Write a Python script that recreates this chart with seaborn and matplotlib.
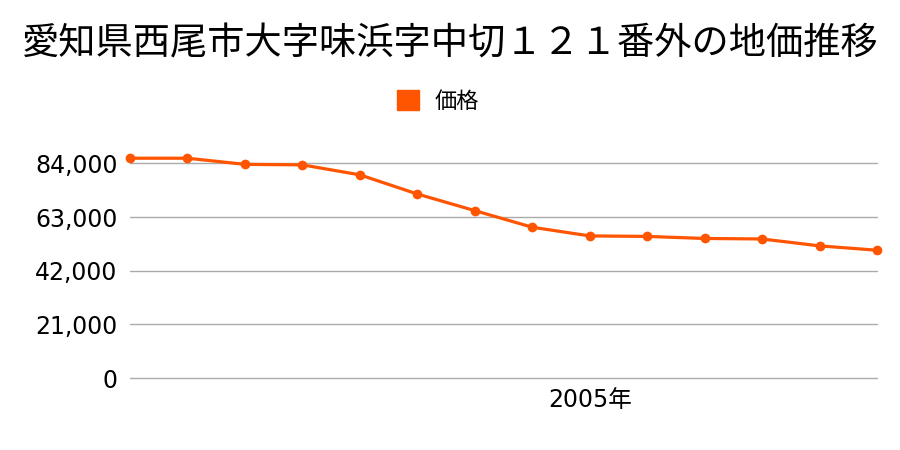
import matplotlib
matplotlib.use("Agg")
import matplotlib.pyplot as plt
import seaborn as sns
import pandas as pd
from matplotlib.patches import Patch

years = list(range(1997, 2011))
prices = [86000, 86000, 83600, 83400, 79500, 72000, 65500, 59000, 55600, 55400, 54600, 54400, 51700, 50000]
yticks = [0, 21000, 42000, 63000, 84000]
title = "愛知県西尾市大字味浜字中切１２１番外の地価推移"
series_name = "価格"
xtick_year = 2005

sns.set_theme(style="white")
plt.rcParams['font.family'] = ['Noto Sans CJK JP', 'DejaVu Sans']
plt.rcParams['text.color'] = 'black'
plt.rcParams['xtick.color'] = 'black'
plt.rcParams['ytick.color'] = 'black'
tick_family = ['DejaVu Sans', 'Noto Sans CJK JP']

df = pd.DataFrame({"year": years, "price": prices, "series": series_name})

fig = plt.figure(figsize=(9, 4.5), dpi=100)
ax = fig.add_axes([130/900, 1-378/450, (877-130)/900, (378-148)/450])

color = "#FF5500"
for v in yticks:
    ax.axhline(v, color="#aaaaaa", linewidth=1, zorder=1, clip_on=False)
sns.lineplot(data=df, x="year", y="price", ax=ax, color=color, linewidth=2.3,
             marker="o", markersize=7, markeredgewidth=0, legend=False, clip_on=False, zorder=3)

ax.set_xlim(years[0], years[-1])
ax.set_ylim(0, 90000)
ax.set_yticks(yticks)
ax.set_yticklabels([f"{v:,}" for v in yticks], fontsize=17, family=tick_family, color="black")
ax.set_xticks([xtick_year])
ax.set_xticklabels([f"{xtick_year}年"], fontsize=17, family=tick_family, color="black")
ax.tick_params(axis="both", length=0)
ax.tick_params(axis="y", pad=9)
ax.tick_params(axis="x", pad=7)
for s in ax.spines.values():
    s.set_visible(False)
ax.set_xlabel("")
ax.set_ylabel("")

fig.suptitle(title, fontsize=26.8, y=1-44/450, va="center", color="black")

handles = [Patch(facecolor=color, edgecolor=color, label=series_name)]
fig.legend(handles=handles, loc="center", bbox_to_anchor=(438/900, 1-101/450), frameon=False,
           fontsize=16, handlelength=1.0, handleheight=1.0, handletextpad=0.7, labelcolor="black")

fig.savefig("out.png", dpi=100)
